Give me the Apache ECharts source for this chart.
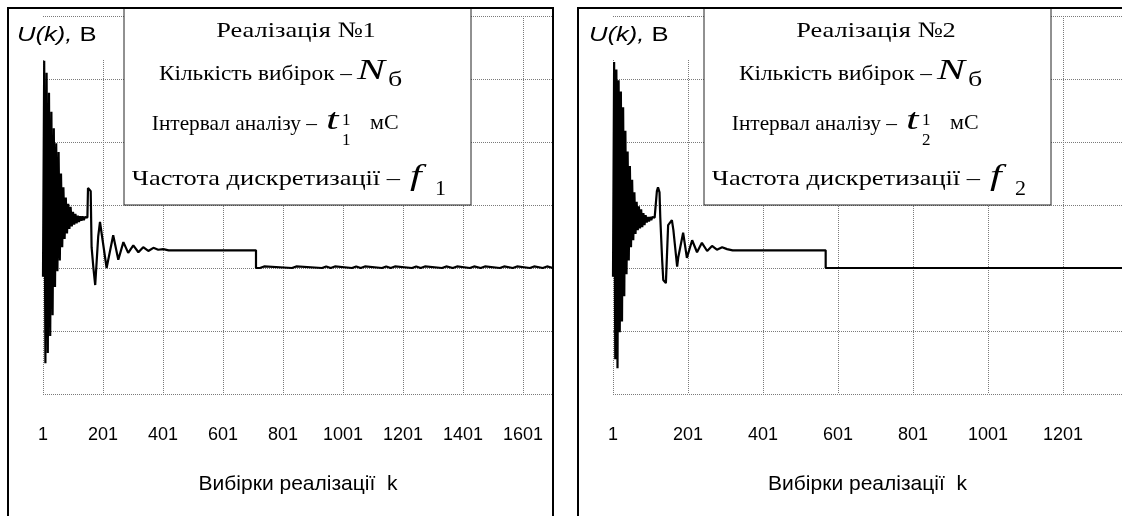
<!DOCTYPE html>
<html><head><meta charset="utf-8">
<script src="https://cdn.jsdelivr.net/npm/echarts@6/dist/echarts.min.js"></script>
<style>html,body{margin:0;padding:0;background:#fff}#c{width:1122px;height:516px}</style>
</head><body><div id="c"></div>
<script>
// ---- Panel 1 (Реалізація №1): sample numbers k and voltages U(k) ----
const k1 = [1,5,9,13,17,21,25,29,33,37,41,45,49,53,57,61,65,69,73,77,81,85,89,93,97,101,105,109,113,117,121,125,129,133,137,141,145,149,
  151,156,160,163,169,175,181,185,191,197,213,235,252,269,285,302,319,335,352,369,385,402,420,711,711];
const u1 = [-0.14,3.29,-1.51,3.10,-1.35,2.78,-1.08,2.48,-0.75,2.22,-0.30,1.98,-0.05,1.84,0.12,1.50,0.33,1.28,0.46,1.12,0.55,1.02,0.62,0.97,0.66,0.89,0.69,0.86,0.71,0.83,0.73,0.82,0.75,0.82,0.76,0.81,0.78,0.80,
  1.27,1.28,1.22,0.33,0.0,-0.27,-0.27,0.5,0.73,0.76,0.0,0.52,0.13,0.41,0.24,0.36,0.25,0.33,0.27,0.32,0.29,0.30,0.28,0.28,0.0];
const bumpStart1 = [724,831,931,960,1031,1060,1131,1160,1231,1260,1331,1367,1424,1460,1524,1567,1624,1667];
const bumpEnd1   = [738,845,945,974,1045,1074,1145,1174,1245,1274,1345,1381,1438,1474,1538,1581,1638,1681];
const bumpLevel1 = 0.025;
const kEnd1 = 1701;

// ---- Panel 2 (Реалізація №2) ----
const k2 = [1,4,7,10,13,16,19,22,25,28,31,34,37,40,43,46,49,52,55,58,61,64,67,70,73,76,79,82,85,88,91,94,97,100,103,106,109,112,115,
  118,121,125,127,132,135,142,148,158,162,172,175,188,198,212,225,238,252,265,278,292,305,320,568,568];
const u2 = [-0.14,3.27,-1.45,3.15,-1.59,2.98,-1.02,2.80,-0.85,2.55,-0.45,2.18,-0.10,1.85,0.12,1.62,0.33,1.40,0.44,1.20,0.54,1.05,0.60,0.98,0.63,0.93,0.65,0.87,0.68,0.84,0.72,0.81,0.74,0.81,0.76,0.81,0.78,0.80,0.79,
  1.22,1.28,1.20,0.81,0.13,-0.19,-0.24,0.68,0.76,0.6,0.02,0.17,0.56,0.16,0.44,0.25,0.40,0.27,0.35,0.29,0.33,0.30,0.28,0.28,0.0];
const bumpStart2 = [];
const bumpEnd2 = [];
const bumpLevel2 = 0;
const kEnd2 = 1358;

// ---- texts ----
const yTitle = ['U(k),', ' В'];
const xTitle = 'Вибірки реалізації  k';
const legend1 = ['Реалізація №1', 'Кількість вибірок –', 'Інтервал аналізу –', 'Частота дискретизації –'];
const legend2 = ['Реалізація №2', 'Кількість вибірок –', 'Інтервал аналізу –', 'Частота дискретизації –'];
const sym1 = {N:'N', Nsub:'б', t:'t', tsup:'1', tsub:'1', unit:'мС', f:'f', fsub:'1'};
const sym2 = {N:'N', Nsub:'б', t:'t', tsup:'1', tsub:'2', unit:'мС', f:'f', fsub:'2'};

function build(ks, us, bs, be, lvl, kEnd) {
  const d = ks.map((k, i) => [k - 1, us[i]]);
  const base = us[us.length - 1];
  for (let i = 0; i < bs.length; i++) {
    d.push([bs[i] - 1, base], [bs[i] - 1, base + lvl], [be[i] - 1, base + lvl], [be[i] - 1, base]);
  }
  d.push([kEnd - 1, base]);
  return d;
}

const SANS = "'Liberation Sans', Arial, sans-serif";
const SERIF = "'Liberation Serif', 'Times New Roman', serif";
const gridStyle = {show: true, lineStyle: {color: '#7a7a7a', width: 1, type: 'dotted'}};

function xAxis(gi, max) {
  return {
    gridIndex: gi, type: 'value', min: 0, max: max, interval: 200,
    axisLine: {show: false}, axisTick: {show: false},
    axisLabel: {formatter: v => String(v + 1), showMaxLabel: false, margin: 32,
      fontFamily: SANS, fontSize: 18, color: '#000'},
    splitLine: Object.assign({showMaxLine: false}, gridStyle),
    name: xTitle, nameLocation: 'middle', nameGap: 80,
    nameTextStyle: {fontFamily: SANS, fontSize: 21, color: '#000'}
  };
}
function yAxis(gi) {
  return {
    gridIndex: gi, type: 'value', min: -2, max: 4, interval: 1,
    axisLine: {show: false}, axisTick: {show: false}, axisLabel: {show: false},
    splitLine: gridStyle
  };
}

function panelGraphics(dx, dxU, leg, sym) {
  const Z = 100;
  const g = [];
  // white patch behind the y title
  g.push({type: 'rect', z: Z, shape: {x: 10 + dxU, y: 17, width: 102 + (dxU ? 16 : 0), height: 43}, style: {fill: '#fff'}});
  g.push({type: 'text', z: Z + 1, x: 17 + dxU, y: 35, scaleX: 1.28, style: {
    text: '{i|' + yTitle[0] + '}' + yTitle[1], fontFamily: 'Liberation Sans', fontSize: 20, fill: '#000',
    verticalAlign: 'middle', rich: {i: {fontStyle: 'italic', fontFamily: 'Liberation Sans', fontSize: 20, fill: '#000'}}}});
  // legend box
  g.push({type: 'rect', z: Z, shape: {x: 124 + dx, y: 8, width: 347, height: 197}, style: {fill: '#fff', stroke: '#222', lineWidth: 1}});
  const t = (txt, x, y, size, sx, opts) => g.push({type: 'text', z: Z + 1, x: x + dx, y: y, scaleX: sx,
    style: Object.assign({text: txt, fontFamily: SERIF, fontSize: size, fill: '#000', verticalAlign: 'middle', align: 'left'}, opts || {})});
  t(leg[0], 296, 31, 22, 1.2, {align: 'center'});
  t(leg[1], 352, 74, 22, 1.06, {align: 'right'});
  t(sym.N, 357, 71, 30, 1.4, {fontStyle: 'italic'});
  t(sym.Nsub, 388, 81, 20, 1.4);
  t(leg[2], 317, 124, 22, 0.97, {align: 'right'});
  t(sym.t, 326, 121, 30, 1.5, {fontStyle: 'italic'});
  t(sym.tsup, 342, 121, 17, 1);
  t(sym.tsub, 342, 141, 17, 1);
  t(sym.unit, 370, 124, 20, 1.1);
  t(leg[3], 400, 179, 22, 1.2, {align: 'right'});
  t(sym.f, 410, 177, 30, 1.4, {fontStyle: 'italic'});
  t(sym.fsub, 435, 190, 20, 1.1);
  return g;
}

const chart = echarts.init(document.getElementById('c'), null, {renderer: 'canvas'});
chart.setOption({
  animation: false,
  backgroundColor: '#fff',
  grid: [
    {left: 43, top: 16, width: 510, height: 378},
    {left: 613, top: 16, width: 509, height: 378}
  ],
  xAxis: [xAxis(0, kEnd1 - 1), xAxis(1, kEnd2 - 1)],
  yAxis: [yAxis(0), yAxis(1)],
  series: [
    {type: 'line', xAxisIndex: 0, yAxisIndex: 0, showSymbol: false, silent: true,
      lineStyle: {color: '#000', width: 2.2}, data: build(k1, u1, bumpStart1, bumpEnd1, bumpLevel1, kEnd1)},
    {type: 'line', xAxisIndex: 1, yAxisIndex: 1, showSymbol: false, silent: true,
      lineStyle: {color: '#000', width: 2.2}, data: build(k2, u2, bumpStart2, bumpEnd2, bumpLevel2, kEnd2)}
  ],
  graphic: [
    {type: 'rect', z: 120, shape: {x: 8, y: 8, width: 545, height: 530}, style: {fill: 'none', stroke: '#000', lineWidth: 2}},
    {type: 'rect', z: 120, shape: {x: 578, y: 8, width: 560, height: 530}, style: {fill: 'none', stroke: '#000', lineWidth: 2}}
  ].concat(panelGraphics(0, 0, legend1, sym1), panelGraphics(580, 572, legend2, sym2))
});
</script></body></html>
